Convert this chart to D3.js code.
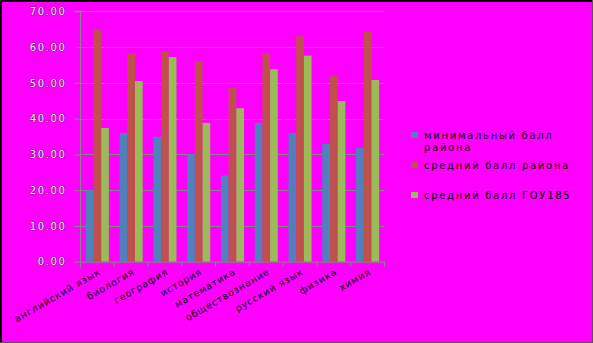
<!DOCTYPE html>
<html><head><meta charset="utf-8">
<script src="https://cdn.jsdelivr.net/npm/d3@7/dist/d3.min.js"></script>
<style>
html,body{margin:0;padding:0;background:#fff;}
svg{display:block;}
text{font-family:"DejaVu Sans",sans-serif;}
</style></head>
<body>
<script>
const categories = ["английский язык","биология","география","история","математика","обществознание","русский язык","физика","химия"];
const seriesNames = ["минимальный балл района","средний балл района","средний балл ГОУ185"];
const minDistrict = [20.0, 36.0, 34.9, 30.0, 24.1, 38.8, 36.0, 32.9, 31.9];
const avgDistrict = [64.9, 58.2, 58.8, 56.0, 48.7, 58.2, 63.0, 52.1, 64.3];
const avgSchool   = [37.4, 50.5, 57.2, 38.8, 42.9, 53.8, 57.6, 44.9, 50.8];
const yTicks = [0,10,20,30,40,50,60,70];
const colors = ["#4F81BD","#C0504D","#9BBB59"];
const series = [minDistrict, avgDistrict, avgSchool];

const W = 593, H = 343;
const svg = d3.select("body").append("svg").attr("width", W).attr("height", H);
svg.append("rect").attr("x",0).attr("y",0).attr("width",W).attr("height",H).attr("fill","#FF00FF");
// frame
svg.append("line").attr("x1",0).attr("x2",W).attr("y1",1).attr("y2",1).attr("stroke","#000").attr("stroke-width",2);
svg.append("line").attr("x1",1).attr("x2",1).attr("y1",0).attr("y2",H).attr("stroke","#000").attr("stroke-width",2);
svg.append("line").attr("x1",W-0.5).attr("x2",W-0.5).attr("y1",0).attr("y2",H).attr("stroke","#555").attr("stroke-width",1);
svg.append("line").attr("x1",0).attr("x2",W).attr("y1",H-0.5).attr("y2",H-0.5).attr("stroke","#555").attr("stroke-width",1);

const x0 = 80.5, x1 = 384.5, yTop = 11.3, yBot = 261.7;
const x = d3.scaleBand().domain(categories).range([x0, x1]).paddingInner(0.32).paddingOuter(0.16);
const xs = d3.scaleBand().domain(d3.range(3)).range([0, x.bandwidth()]);
const y = d3.scaleLinear().domain([0,70]).range([yBot, yTop]);

// gridlines
svg.append("g").selectAll("line").data(yTicks.slice(1)).join("line")
  .attr("x1", x0).attr("x2", x1)
  .attr("y1", d => Math.round(y(d))+0.5).attr("y2", d => Math.round(y(d))+0.5)
  .attr("stroke", "#868686").attr("stroke-width", 1);

// bars
series.forEach((vals, si) => {
  svg.append("g").selectAll("rect").data(vals).join("rect")
    .attr("x", (d,i) => x(categories[i]) + xs(si))
    .attr("width", xs.bandwidth())
    .attr("y", d => y(d))
    .attr("height", d => yBot - y(d))
    .attr("fill", colors[si]);
});

// y axis
const yAxis = d3.axisLeft(y).tickValues(yTicks).tickFormat(d => d3.format(".2f")(d)).tickSize(6).tickPadding(8);
const gy = svg.append("g").attr("transform", `translate(${x0},0)`).call(yAxis);
gy.select(".domain").attr("stroke","#868686").attr("d", `M-6,${yTop}H0V${yBot+6}`);
gy.selectAll(".tick line").attr("stroke","#868686");
gy.selectAll(".tick text").attr("font-size", 10).attr("letter-spacing", "1.6px")
  .attr("fill","#fff").attr("stroke","#000").attr("stroke-width",0.6).attr("paint-order","stroke");

// x axis
const xAxis = d3.axisBottom(x).tickSize(0).tickFormat("");
const gx = svg.append("g").attr("transform", `translate(0,${yBot})`).call(xAxis);
gx.select(".domain").attr("stroke","#868686");
const step = x.step();
gx.append("g").selectAll("line").data(d3.range(categories.length+1)).join("line")
  .attr("x1", i => x0 + i*step).attr("x2", i => x0 + i*step)
  .attr("y1", 0).attr("y2", 5).attr("stroke","#868686");

svg.append("g").selectAll("text").data(categories).join("text")
  .attr("transform", d => `translate(${x(d) + x.bandwidth()/2 + 4},${yBot + 12}) rotate(-30)`)
  .attr("text-anchor","end")
  .attr("font-size", 9.5).attr("letter-spacing","0.8px")
  .attr("fill","#000")
  .text(d => d);

// legend
const legend = svg.append("g");
const legY = [135, 165, 195];
const legLines = [["минимальный балл","района"],["средний балл района"],["средний балл ГОУ185"]];
legLines.forEach((lines, i) => {
  legend.append("rect").attr("x", 411).attr("y", legY[i]-3).attr("width", 7).attr("height", 6).attr("fill", colors[i]);
  const t = legend.append("text").attr("x", 424).attr("y", legY[i]+4)
    .attr("font-size", 10).attr("letter-spacing","1.7px").attr("fill","#000");
  lines.forEach((ln, j) => t.append("tspan").attr("x", 424).attr("dy", j ? 12 : 0).text(ln));
});
</script>
</body></html>
